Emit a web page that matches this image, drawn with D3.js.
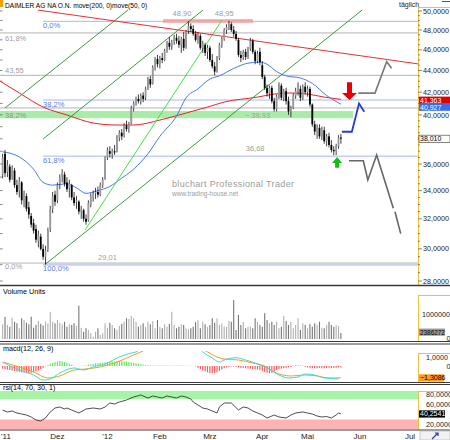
<!DOCTYPE html>
<html>
<head>
<meta charset="utf-8">
<script src="https://cdn.jsdelivr.net/npm/d3@7"></script>
<style>
  body { margin: 0; background: #fff; }
  svg { display: block; }
  text { font-family: "Liberation Sans", Arial, sans-serif; }
</style>
</head>
<body>
<script>
/* ---------------------------- */
/* DATA                         */
/* ---------------------------- */

// Daily candles, first one is 31.10.2011 (index 0 of the trading calendar)
const opens = [
  35.2,36.8,35.4,35.8,35.0,35.5,34.4,34.0,34.6,33.2,
  33.6,32.8,32.2,31.7,31.3,30.5,30.8,30.0,29.5,30.0,
  31.3,32.7,33.7,33.3,34.5,35.0,35.2,34.6,34.2,34.4,
  33.5,33.2,33.2,32.5,32.6,32.0,31.9,33.0,33.5,33.8,
  33.9,33.7,34.4,34.9,36.5,37.0,36.8,37.0,37.0,38.1,
  38.5,38.3,39.1,38.9,39.3,40.6,41.0,41.4,41.2,41.7,
  41.5,42.3,43.2,42.8,44.3,45.1,44.6,45.2,45.0,45.9,
  46.7,46.3,46.8,47.2,46.9,46.5,47.1,46.3,47.9,48.4,
  48.1,47.6,47.0,47.4,46.2,46.5,45.8,46.2,45.0,44.4,
  43.9,45.2,46.5,47.1,48.0,48.3,48.6,48.0,47.6,47.0,
  45.5,45.3,45.8,45.3,46.1,46.9,45.8,44.9,45.8,44.5,
  43.4,42.4,41.9,42.4,41.2,40.5,41.6,42.6,41.5,42.1,
  41.2,40.3,40.6,41.7,42.1,42.3,41.5,42.5,42.0,42.3,
  40.9,39.2,38.6,38.9,38.2,38.7,37.8,38.2,37.5,37.1,
  37.0,37.4,38.1];
const highs = [
  36.8,37.1,36.3,36.0,35.9,35.7,34.8,35.0,34.7,34.0,
  33.8,33.2,32.4,32.0,31.6,31.2,31.0,30.3,30.2,31.4,
  32.9,33.9,34.0,34.6,35.2,35.6,35.4,35.0,34.8,34.5,
  33.9,33.6,33.3,32.9,32.7,32.3,33.3,33.8,34.0,34.2,
  34.3,34.6,35.0,36.6,37.3,37.4,37.2,37.5,38.3,38.7,
  38.8,39.3,39.5,39.4,40.8,41.2,41.6,41.8,41.9,42.0,
  42.5,43.4,43.5,44.5,45.3,45.5,45.4,45.7,46.1,46.9,
  47.3,47.0,47.5,47.6,47.4,47.3,47.8,48.0,48.9,48.7,
  48.5,47.9,47.8,47.6,46.9,46.7,46.5,46.4,45.6,44.8,
  45.4,46.7,47.3,48.2,48.6,48.95,48.8,48.4,47.9,47.2,
  45.9,46.0,46.1,46.3,47.2,47.1,46.0,45.9,46.2,44.9,
  43.6,42.7,42.6,42.6,41.5,41.8,42.9,42.8,42.3,42.4,
  41.6,40.8,41.9,42.4,42.9,42.6,42.7,42.9,42.6,42.5,
  41.0,39.5,39.2,39.2,39.0,39.0,38.4,38.5,37.9,37.4,
  37.6,38.3,38.4];
const lows = [
  34.9,35.0,35.0,34.6,34.8,34.2,33.7,33.5,33.0,32.8,
  32.5,32.0,31.4,31.0,30.4,30.1,29.9,29.3,29.01,29.8,
  31.1,32.4,32.9,33.1,34.1,34.6,34.3,33.9,33.5,33.3,
  32.9,32.7,32.3,32.0,31.8,31.6,31.8,32.8,33.2,33.4,
  33.5,33.6,34.2,34.8,36.3,36.5,36.4,36.7,36.9,37.8,
  37.9,38.1,38.6,38.5,39.2,40.3,40.8,41.0,40.9,41.1,
  41.3,42.2,42.4,42.7,44.0,44.3,44.2,44.7,44.9,45.7,
  46.0,46.0,46.5,46.6,46.2,45.7,45.9,46.1,47.6,47.8,
  47.4,46.8,46.6,46.0,45.7,45.4,45.1,44.8,44.2,43.55,
  43.8,45.0,46.2,46.9,47.6,48.0,47.8,47.3,46.9,45.3,
  44.8,45.0,45.0,45.1,45.9,45.6,44.6,44.7,44.5,43.2,
  42.2,41.6,41.4,41.0,40.3,40.3,41.4,41.3,41.2,40.9,
  40.0,39.8,40.5,41.4,41.7,41.2,41.3,41.8,41.6,40.7,
  39.0,38.3,38.0,38.0,37.9,37.6,37.4,37.3,36.9,36.68,
  36.7,37.2,37.6];
const closes = [
  36.5,35.3,35.9,34.8,35.6,34.4,33.9,34.7,33.3,33.8,
  32.7,32.3,31.6,31.2,30.6,30.9,30.0,29.5,29.9,31.2,
  32.7,33.6,33.2,34.4,34.9,35.3,34.5,34.1,34.5,33.5,
  33.1,33.3,32.5,32.7,32.0,31.8,33.1,33.6,33.8,33.9,
  33.7,34.4,34.8,36.4,37.1,36.8,37.0,36.9,38.1,38.5,
  38.2,39.1,38.8,39.2,40.6,41.0,41.4,41.2,41.7,41.4,
  42.3,43.2,42.7,44.3,45.1,44.6,45.2,45.0,45.9,46.7,
  46.3,46.8,47.2,46.9,46.5,47.1,46.2,47.8,48.4,48.1,
  47.6,47.0,47.5,46.2,46.6,45.7,46.2,45.0,44.4,43.9,
  45.2,46.5,47.1,48.0,48.3,48.6,48.0,47.6,47.1,45.5,
  45.2,45.8,45.3,46.1,46.9,45.8,44.9,45.6,44.8,43.4,
  42.4,41.9,42.4,41.2,40.5,41.6,42.6,41.5,42.1,41.2,
  40.3,40.6,41.7,42.1,42.3,41.5,42.5,42.0,42.3,40.9,
  39.2,38.6,38.9,38.2,38.7,37.8,38.2,37.5,37.1,37.0,
  37.4,38.1,38.01];
// volume in millions of shares
const volumeMillions = [
  5.9,8.9,5.6,4.9,8.5,6.9,6.3,4.3,8.3,7.6,
  6.5,5.9,8.9,4.5,5.6,7.2,6.1,5.4,7.0,6.2,
  10.9,6.9,6.3,7.6,6.5,5.9,6.9,4.9,5.9,5.6,
  6.3,5.2,13.3,4.5,2.9,4.3,3.6,2.3,0.9,2.9,
  4.3,1.6,2.3,6.3,4.5,6.5,5.6,4.3,3.6,5.2,
  6.0,6.9,8.3,8.0,9.2,8.3,6.9,4.9,5.6,6.3,
  4.9,6.9,5.9,7.2,4.3,7.6,4.9,4.3,5.9,4.9,
  6.0,10.9,5.6,4.3,4.9,5.9,5.6,4.3,3.9,4.3,
  4.9,6.7,7.6,4.3,6.9,5.9,4.9,5.6,8.3,6.5,
  8.3,5.6,6.2,5.0,4.9,7.2,6.9,15.6,3.6,9.6,
  5.6,6.9,4.3,4.9,4.9,4.3,8.3,6.9,5.6,4.9,
  10.3,7.6,6.3,6.9,5.6,6.9,4.3,4.9,9.3,7.2,
  5.6,6.9,4.3,5.6,8.3,3.6,6.3,5.6,4.3,5.9,
  4.9,6.3,5.6,6.9,4.5,4.3,5.6,6.9,5.6,4.9,
  5.6,5.2,2.39];
// macd histogram per day
const macdHist = [
  -0.3,-0.35,-0.4,-0.45,-0.5,
  -0.55,-0.6,-0.65,-0.7,-0.75,-0.8,
  -0.8,-0.75,-0.7,-0.6,-0.5,-0.35,
  -0.2,-0.05,0.1,
  0.25,0.35,0.45,0.5,0.55,0.5,0.45,0.35,0.25,0.15,
  0.05,0.03,-0.03,0.02,0.04,0.06,
  0.15,0.2,0.25,0.3,0.3,0.35,0.35,0.4,0.45,0.45,0.5,0.5,0.55,0.55,0.55,0.5,0.5,0.45,0.4,0.35,0.3,0.25,0.2,0.15,
  0.1,0.08,0.06,0.05,0.05,0.04,0.05,0.06,0.05,0.04,0.05,0.05,0.04,0.04,0.05,0.05,0.04,0.03,0.03,0.02,0.01,-0.05,
  -0.2,-0.35,-0.5,-0.6,-0.7,-0.8,-0.8,-0.75,-0.7,-0.55,-0.4,-0.25,-0.15,
  -0.1,-0.05,-0.08,-0.1,-0.15,-0.2,-0.2,-0.25,-0.3,-0.3,-0.35,-0.35,-0.4,
  -0.45,-0.55,-0.65,-0.75,-0.8,-0.75,-0.6,-0.45,
  -0.35,-0.3,-0.25,-0.2,-0.15,-0.1,0.05,0.1,0.1,0.08,
  0.05,-0.1,-0.15,-0.2,-0.25,-0.25,-0.25,-0.2,-0.25,-0.25,-0.2,-0.2,-0.25,-0.2,-0.2,-0.15,-0.15];

// moving averages: [day index, value]
const ma50 = [[0,36.95],[7,36.55],[13,35.6],[17,34.6],[21,34.4],[27,34.5],[31,34.2],[35,33.8],[40,34.0],
  [45,34.3],[49,34.8],[55,35.6],[61,36.8],[66,38.2],[73,39.9],[77,41.5],[82,42.3],[87,43.2],[91,43.5],
  [97,44.2],[103,44.7],[108,44.8],[111,44.6],[115,43.9],[119,43.5],[125,43.3],[130,42.8],[136,41.7],[142,40.93]];
const ma200 = [[-1,43.0],[7,41.93],[17,40.68],[27,39.99],[38,39.31],[48,39.14],[55,39.14],[66,39.56],
  [77,40.16],[86,40.68],[93,41.12],[107,41.56],[114,41.83],[121,41.93],[128,41.83],[135,41.56],[142,41.36]];
const macdLine = [[0,0.41],[7,-0.44],[13,-1.0],[17,-1.56],[20,-1.44],[24,-0.78],[30,-0.22],[34,-0.44],
  [38,-0.11],[44,0.33],[48,0.89],[54,1.44],[56,1.56],[62,2.6],[72,3.0],[80,2.6],[84,1.56],[88,0.89],
  [91,0.44],[93,0.67],[98,0.92],[102,0.67],[107,0.22],[111,-0.22],[116,-1.0],[120,-1.33],[124,-1.22],
  [127,-0.89],[131,-1.0],[135,-1.33],[141,-1.44]];
const signalLine = [[0,0.44],[7,-0.11],[13,-0.67],[19,-1.33],[24,-1.11],[30,-0.44],[35,-0.33],[41,-0.11],
  [48,0.44],[55,1.22],[58,1.56],[68,2.5],[79,2.5],[86,1.56],[90,1.0],[93,0.78],[99,0.67],[105,0.33],
  [110,0],[114,-0.67],[121,-1.11],[127,-1.0],[132,-1.11],[137,-1.33],[142,-1.31]];
const rsiLine = [[0,48],[2,44],[4,46],[6,42],[8,40],[10,38],[12,34],[14,28],[16,26],[18,32],[20,44],[22,52],
  [24,54],[26,50],[27,52],[29,48],[30,46],[32,42],[35,50],[38,52],[41,50],[43,54],[45,62],[47,60],[49,64],
  [52,68],[55,74],[58,78],[61,72],[63,76],[65,74],[67,72],[69,76],[71,74],[73,72],[75,76],[77,74],[79,70],
  [80,64],[82,58],[84,52],[86,50],[88,46],[90,42],[91,54],[93,62],[96,62],[99,48],[101,54],[103,52],
  [105,46],[107,42],[109,38],[111,32],[113,36],[114,38],[116,34],[119,32],[121,38],[123,42],[126,44],
  [128,42],[130,40],[132,36],[134,34],[136,35],[138,32],[140,38],[141,42],[142,40.25]];

// drawn lines: [[day, price], [day, price]]
const resistanceLine = [[14.85, 50.1], [174.4, 44.63]];
const channelLines = [
  [[1, 40.6], [52.6, 50.1]],
  [[17, 37.98], [84.1, 50.1]],
  [[17.8, 29.01], [150.9, 50.1]]];
const steepTrend = [[34.6, 31.24], [92.1, 49.04]];

// retracement levels
const grayLevels = [47.7, 43.55, 40.6, 29.1];
const grayLevelLabels = ["61,8%", "43,55", "", "0,0%"];
const blueLevels = [48.9, 41.30, 36.61, 29.01];
const blueLevelLabels = ["0,0%", "38,2%", "61,8%", "100,0%"];
const supportZone = [39.72, 40.34];
const topZone = [48.90, 48.95];

// price notes: [day, price, text]
const priceNotes = [[75.3, 48.90, "48,90"], [93, 48.95, "48,95"], [107, 39.93, "~ 39,93"],
  [106, 36.68, "36,68"], [44, 29.01, "29,01"]];

// scenarios to the right
const scenarioUp = [[149.3, 41.92], [156.3, 41.92], [161.2, 44.84], [163.3, 44.21]];
const scenarioBlue = [[142.4, 38.58], [146.6, 38.58], [149.6, 41.0], [151.8, 40.28]];
const scenarioDown = [[145.4, 36.25], [151.4, 36.25], [153.3, 34.78], [157, 36.7], [164, 32.73]];
const scenarioDownTail = [[164.7, 32.49], [167.1, 31.0]];
const sellArrow = {day: 145.6, from: 42.9, to: 41.3};
const buyArrow = {day: 140.4, from: 35.7, to: 36.55};

// axes
const priceTicks = [50, 48, 46, 44, 42, 40, 36, 34, 32, 30, 28]; // 38 sits under the last price box
const monthKeys = ["2011-11", "2011-12", "2012-01", "2012-02", "2012-03", "2012-04", "2012-05", "2012-06", "2012-07"];
const monthLabels = ["'11", "Dez", "'12", "Feb", "Mrz", "Apr", "Mai", "Jun", "Jul"];
const holidays = ["2011-12-26", "2012-04-06", "2012-04-09", "2012-05-01"];
const lastValues = {ma200: 41.363, ma50: 40.927, close: 38.01, volume: 2386272, macd: -1.3086, rsi: 40.2541};
const rsiZones = [[70, 86], [10, 29]];

/* ---------------------------- */
/* CALENDAR + SCALES            */
/* ---------------------------- */

const fmtDay = d3.timeFormat("%Y-%m-%d");
let days = [];
for (let d = new Date(2011, 9, 31); d <= new Date(2012, 6, 31); d = d3.timeDay.offset(d, 1)) {
  if (d.getDay() === 0 || d.getDay() === 6) continue;
  if (holidays.includes(fmtDay(d))) continue;
  days.push(fmtDay(d));
}

const x = d3.scaleLinear().domain([1, 171]).range([5, 410]);
const y = d3.scaleLog().domain([28, 50]).range([281, 11]);
const yVol = d3.scaleLinear().domain([0, 10]).range([339, 314]);
const yMacd = d3.scaleLinear().domain([0, 1]).range([366, 357]);
const yRsi = d3.scaleLinear().domain([0, 100]).range([434, 384]);

const comma = (v, n) => d3.format("." + n + "f")(v).replace(".", ",");

/* ---------------------------- */
/* CANVAS                       */
/* ---------------------------- */

const svg = d3.select("body").append("svg").attr("width", 450).attr("height", 440);
svg.append("rect").attr("width", 450).attr("height", 440).attr("fill", "#fff");
const defs = svg.append("defs");
function addClip(id, x0, y0, w, h) {
  defs.append("clipPath").attr("id", id)
    .append("rect").attr("x", x0).attr("y", y0).attr("width", w).attr("height", h);
}
addClip("cMain", 0, 0, 418, 285);
addClip("cVol", 0, 288, 418, 53);
addClip("cMacd", 0, 351, 418, 30);
addClip("cRsi", 0, 385, 418, 45);

const main = svg.append("g").attr("clip-path", "url(#cMain)");
const straight = d3.line().x(d => x(d[0])).y(d => y(d[1]));
const smooth = d3.line().x(d => x(d[0])).y(d => y(d[1])).curve(d3.curveMonotoneX);

// support zone (green)
main.append("rect")
  .attr("x", 0).attr("width", x(147.1))
  .attr("y", y(supportZone[1])).attr("height", y(supportZone[0]) - y(supportZone[1]))
  .attr("fill", "#a8eca8");

// gray retracement
grayLevels.forEach((v, i) => {
  main.append("line").attr("x1", 0).attr("x2", 418).attr("y1", y(v)).attr("y2", y(v))
    .attr("stroke", "#b4b4b4").attr("stroke-width", 1);
});
const grayDy = [8, -2, 0, 6];
grayLevels.forEach((v, i) => {
  if (!grayLevelLabels[i]) return;
  main.append("text").attr("x", 5).attr("y", y(v) + grayDy[i])
    .attr("font-size", 7.5).attr("fill", "#a0a0a0").text(grayLevelLabels[i]);
});
main.append("text").attr("x", 5).attr("y", y(39.93) + 2.5)
  .attr("font-size", 7.5).attr("fill", "#909090").text("38,2%");

// blue retracement
blueLevels.forEach((v, i) => {
  main.append("line").attr("x1", x(17)).attr("x2", 418).attr("y1", y(v)).attr("y2", y(v))
    .attr("stroke", i === 3 ? "#c4d0f6" : "#a8b8f2").attr("stroke-width", i === 3 ? 2.5 : 1);
  main.append("text").attr("x", x(17)).attr("y", y(v) + 7)
    .attr("font-size", 7.5).attr("fill", "#5a7aea").text(blueLevelLabels[i]);
});

// double top zone
main.append("line")
  .attr("x1", x(67.3)).attr("x2", x(105.1))
  .attr("y1", y(d3.mean(topZone))).attr("y2", y(d3.mean(topZone)))
  .attr("stroke", "#f2a4a4").attr("stroke-width", 3.5);

// watermark
main.append("text").attr("x", 172).attr("y", 187).attr("font-size", 9)
  .attr("letter-spacing", 0.35).attr("fill", "#9c9c9c").text("bluchart Professional Trader");
main.append("text").attr("x", 172).attr("y", 196).attr("font-size", 6.5)
  .attr("fill", "#9c9c9c").text("www.trading-house.net");

// moving averages
main.append("path").attr("d", smooth(ma200)).attr("fill", "none").attr("stroke", "#e22").attr("stroke-width", 1);
main.append("path").attr("d", smooth(ma50)).attr("fill", "none").attr("stroke", "#4a78ec").attr("stroke-width", 1);

// trend lines
channelLines.forEach(l => {
  main.append("path").attr("d", straight(l)).attr("stroke", "#3c9a3c").attr("stroke-width", 1);
});
main.append("path").attr("d", straight(steepTrend)).attr("stroke", "#44e044").attr("stroke-width", 1);
main.append("path").attr("d", straight(resistanceLine)).attr("stroke", "#e83030").attr("stroke-width", 1);

// candles
const idx = d3.range(closes.length);
const cg = main.append("g");
cg.selectAll("line").data(idx).join("line")
  .attr("x1", i => x(i)).attr("x2", i => x(i))
  .attr("y1", i => y(highs[i])).attr("y2", i => y(lows[i]))
  .attr("stroke", "#111").attr("stroke-width", 0.8);
cg.selectAll("rect").data(idx).join("rect")
  .attr("x", i => x(i) - 0.9).attr("width", 1.8)
  .attr("y", i => y(Math.max(opens[i], closes[i])))
  .attr("height", i => Math.max(0.8, Math.abs(y(opens[i]) - y(closes[i]))))
  .attr("fill", i => closes[i] >= opens[i] ? "#9a9a9a" : "#000");

// price notes
priceNotes.forEach(n => {
  const dy = n[1] > 48 ? -5 : (n[2] === "~ 39,93" ? 2.5 : -4);
  main.append("text").attr("x", x(n[0])).attr("y", y(n[1]) + dy)
    .attr("text-anchor", "middle").attr("font-size", 7.5).attr("fill", "#a0a0a0").text(n[2]);
});

// scenarios
main.append("path").attr("d", straight(scenarioUp)).attr("fill", "none").attr("stroke", "#7a7a7a").attr("stroke-width", 1.6);
main.append("path").attr("d", straight(scenarioBlue)).attr("fill", "none").attr("stroke", "#2a3ad0").attr("stroke-width", 1.8);
main.append("path").attr("d", straight(scenarioDown)).attr("fill", "none").attr("stroke", "#666").attr("stroke-width", 1.6);
main.append("path").attr("d", straight(scenarioDownTail)).attr("fill", "none").attr("stroke", "#666").attr("stroke-width", 1.6);

// arrows
function arrow(a, color, stemW, headW, headH) {
  const cx = x(a.day), y0 = y(a.from), y1 = y(a.to);
  const dir = y1 > y0 ? 1 : -1;
  const yb = y1 - dir * headH;
  main.append("path")
    .attr("d", `M${cx - stemW / 2},${y0} L${cx + stemW / 2},${y0} L${cx + stemW / 2},${yb} L${cx + headW / 2},${yb}
      L${cx},${y1} L${cx - headW / 2},${yb} L${cx - stemW / 2},${yb} Z`)
    .attr("fill", color);
}
arrow(sellArrow, "#e80000", 5, 15, 7);
arrow(buyArrow, "#10c010", 4, 10, 6);

// title
svg.append("rect").attr("x", 0).attr("y", 0).attr("width", 3).attr("height", 7).attr("fill", "#f5a000");
svg.append("text").attr("x", 5).attr("y", 8).attr("font-size", 6.6).attr("fill", "#000")
  .text("DAIMLER AG NA O.N. move(200, 0)move(50, 0)");

/* ---------------------------- */
/* VOLUME                       */
/* ---------------------------- */

const vol = svg.append("g").attr("clip-path", "url(#cVol)");
vol.selectAll("rect").data(idx).join("rect")
  .attr("x", i => x(i) - 0.55).attr("width", 1.1)
  .attr("y", i => yVol(volumeMillions[i])).attr("height", i => yVol(0) - yVol(volumeMillions[i]))
  .attr("fill", i => closes[i] >= opens[i] ? "#b0b0b0" : "#777");
svg.append("text").attr("x", 3).attr("y", 294).attr("font-size", 7.2).text("Volume Units");

/* ---------------------------- */
/* MACD                         */
/* ---------------------------- */

const macdG = svg.append("g").attr("clip-path", "url(#cMacd)");
macdG.selectAll("rect").data(idx).join("rect")
  .attr("x", i => x(i) - 0.6).attr("width", 1.2)
  .attr("y", i => Math.min(yMacd(0), yMacd(macdHist[i])))
  .attr("height", i => Math.abs(yMacd(macdHist[i]) - yMacd(0)))
  .attr("fill", i => macdHist[i] >= 0 ? "#5ee85e" : "#ff5a5a");
const mLine = d3.line().x(d => x(d[0])).y(d => yMacd(d[1])).curve(d3.curveMonotoneX);
macdG.append("path").attr("d", mLine(signalLine)).attr("fill", "none").attr("stroke", "#ff9a20").attr("stroke-width", 1);
macdG.append("path").attr("d", mLine(macdLine)).attr("fill", "none").attr("stroke", "#30dede").attr("stroke-width", 1);
svg.append("text").attr("x", 3).attr("y", 351).attr("font-size", 7.2).text("macd(12, 26, 9)");

/* ---------------------------- */
/* RSI                          */
/* ---------------------------- */

const rsiG = svg.append("g").attr("clip-path", "url(#cRsi)");
rsiZones.forEach((z, i) => {
  rsiG.append("rect").attr("x", 0).attr("width", 418)
    .attr("y", yRsi(z[1])).attr("height", yRsi(z[0]) - yRsi(z[1]))
    .attr("fill", i === 0 ? "#a6f5a6" : "#ffb4b4");
});
const rLine = d3.line().x(d => x(d[0])).y(d => yRsi(d[1]));
rsiG.append("path").attr("d", rLine(rsiLine)).attr("fill", "none").attr("stroke", "#222").attr("stroke-width", 0.8);
svg.append("text").attr("x", 3).attr("y", 390).attr("font-size", 7.2).text("rsi(14, 70, 30, 1)");

/* ---------------------------- */
/* RIGHT AXES                   */
/* ---------------------------- */

const ax = svg.append("g");
ax.append("rect").attr("x", 418).attr("y", 0).attr("width", 32).attr("height", 430).attr("fill", "#fff");

function bracket(y0, y1) {
  ax.append("line").attr("x1", 418.5).attr("x2", 418.5).attr("y1", y0).attr("y2", y1).attr("stroke", "#f0c040");
  ax.append("line").attr("x1", 418).attr("x2", 450).attr("y1", y0 + 0.5).attr("y2", y0 + 0.5).attr("stroke", "#f0c040");
}
bracket(7, 285);
bracket(295, 341);
bracket(353, 382);
bracket(391, 430);

// price axis
d3.range(28, 50.5, 0.5).forEach(v => {
  const major = v % 2 === 0;
  ax.append("line").attr("x1", 418).attr("x2", major ? 422 : 420).attr("y1", y(v)).attr("y2", y(v))
    .attr("stroke", "#555").attr("stroke-width", 0.7);
  if (v % 1 === 0) {
    svg.append("line").attr("x1", 0).attr("x2", 2.5).attr("y1", y(v)).attr("y2", y(v))
      .attr("stroke", "#555").attr("stroke-width", 0.7);
  }
});
priceTicks.forEach(v => {
  ax.append("text").attr("x", 423).attr("y", y(v) + 2.6).attr("font-size", 7.2).attr("fill", "#222")
    .text(comma(v, 4));
});

function badge(cy, text, bg, fg, w, fs) {
  ax.append("rect").attr("x", 419).attr("y", cy - 3.5).attr("width", w).attr("height", 7.2)
    .attr("fill", bg).attr("stroke", bg === "#fff" ? "#333" : "none").attr("stroke-width", 0.6);
  ax.append("text").attr("x", 420).attr("y", cy + 2.6).attr("font-size", fs || 7).attr("fill", fg).text(text);
}
const yRed = y(lastValues.ma200) + 0.8;
const yBlue = Math.max(y(lastValues.ma50), yRed + 7);
badge(yRed, comma(lastValues.ma200, 3), "#e00000", "#fff", 31);
badge(yBlue, comma(lastValues.ma50, 3), "#3a6cf0", "#fff", 31);
badge(y(lastValues.close), comma(lastValues.close, 3), "#fff", "#000", 31);

// volume axis
ax.append("text").attr("x", 422).attr("y", yVol(10) + 2.6).attr("font-size", 7.2).attr("fill", "#222").text("10000000");
ax.append("text").attr("x", 446.5).attr("y", yVol(0) + 1.5).attr("font-size", 7.2).attr("fill", "#222").text("0");
badge(yVol(lastValues.volume / 1e6) - 1, String(lastValues.volume), "#9a9a9a", "#000", 26, 6.4);

// macd axis
ax.append("text").attr("x", 426).attr("y", yMacd(1) + 2.6).attr("font-size", 7.2).attr("fill", "#222").text("1,0000");
ax.append("text").attr("x", 446.5).attr("y", yMacd(0) + 2.6).attr("font-size", 7.2).attr("fill", "#222").text("0");
badge(yMacd(lastValues.macd), comma(lastValues.macd, 4), "#ff9a20", "#000", 25);

// rsi axis
[80, 60, 20].forEach(v => {
  ax.append("text").attr("x", 426).attr("y", yRsi(v) + 2.6).attr("font-size", 7.2).attr("fill", "#222").text(comma(v, 4));
});
badge(yRsi(lastValues.rsi), comma(lastValues.rsi, 4), "#000", "#fff", 26);

// top right
svg.append("text").attr("x", 399).attr("y", 7).attr("font-size", 7).attr("fill", "#222").text("täglich");
svg.append("line").attr("x1", 442).attr("x2", 450).attr("y1", 1.5).attr("y2", 1.5).attr("stroke", "#555");

/* ---------------------------- */
/* PANEL BORDERS + DATE AXIS    */
/* ---------------------------- */

[285.5, 341.5, 344, 382.5, 384.5, 430].forEach(yy => {
  svg.append("line").attr("x1", 0).attr("x2", 450).attr("y1", yy).attr("y2", yy)
    .attr("stroke", "#3a3a3a").attr("stroke-width", yy === 285.5 ? 1.5 : 1);
});

monthKeys.forEach((m, k) => {
  const j = days.findIndex(d => d.startsWith(m));
  svg.append("text").attr("x", Math.max(x(j), 6)).attr("y", 439).attr("text-anchor", "middle")
    .attr("font-size", 8).attr("fill", "#222").text(monthLabels[k]);
});

// bottom right button
svg.append("rect").attr("x", 420).attr("y", 431).attr("width", 30).attr("height", 9)
  .attr("fill", "#f2f2f2").attr("stroke", "#aaa").attr("stroke-width", 0.6);
svg.append("path").attr("d", "M432,439 L438,433 M435,433 L438,433 L438,436")
  .attr("fill", "none").attr("stroke", "#2a3ab0").attr("stroke-width", 1.2);
</script>
</body>
</html>
